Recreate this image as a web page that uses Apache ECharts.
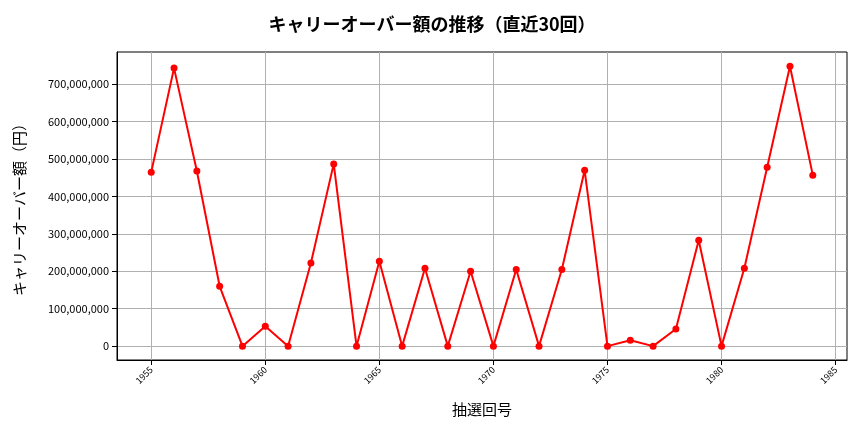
<!DOCTYPE html>
<html><head><meta charset="utf-8">
<script src="https://cdn.jsdelivr.net/npm/echarts@6/dist/echarts.min.js"></script>
<style>body{margin:0}#c{width:864px;height:432px}</style></head>
<body><div id="c"></div>
<script>
const draws = [];
for (let d = 1955; d <= 1984; d++) draws.push(d);
const carryover = [465e6,743e6,468e6,160e6,0,53e6,0,222e6,487e6,0,227e6,0,208e6,0,200e6,0,205e6,0,205e6,470e6,0,16e6,0,46e6,283e6,0,208e6,478e6,748e6,457e6];
const xTicks = [1955,1960,1965,1970,1975,1980,1985];
const yTicks = [0,1e8,2e8,3e8,4e8,5e8,6e8,7e8];
const font = '"Noto Sans CJK JP", sans-serif';
const chart = echarts.init(document.getElementById('c'));
chart.setOption({
  animation:false,
  title:{text:'キャリーオーバー額の推移（直近30回）',left:'center',top:10,textStyle:{fontFamily:font,fontSize:18,fontWeight:'bold',color:'#000'}},
  grid:{left:117,right:17,top:52,bottom:72,show:true,borderColor:'#000',borderWidth:1},
  xAxis:{type:'value',min:1953.5,max:1985.5,name:'抽選回号',nameLocation:'middle',nameGap:42,
    nameTextStyle:{fontFamily:font,fontSize:15,color:'#000'},
    axisLine:{onZero:false,lineStyle:{color:'#000'}},
    axisTick:{customValues:xTicks,lineStyle:{color:'#000'}},
    axisLabel:{customValues:xTicks,rotate:45,fontSize:9,color:'#000',fontFamily:font,formatter:v=>String(v)},
    splitLine:{show:true,lineStyle:{color:'#b0b0b0'}}},
  yAxis:{type:'value',min:-37e6,max:786e6,name:'キャリーオーバー額（円）',nameLocation:'middle',nameGap:90,
    nameTextStyle:{fontFamily:font,fontSize:15,color:'#000'},
    axisLine:{show:true,onZero:false,lineStyle:{color:'#000'}},
    axisTick:{show:true,customValues:yTicks,lineStyle:{color:'#000'}},
    axisLabel:{customValues:yTicks,fontSize:11,color:'#000',fontFamily:font,formatter:v=>v.toLocaleString('en-US')},
    splitLine:{show:true,lineStyle:{color:'#b0b0b0'}}},
  series:[{type:'line',data:draws.map((d,i)=>[d,carryover[i]]),symbol:'circle',symbolSize:7,
    lineStyle:{color:'#ff0000',width:2},itemStyle:{color:'#ff0000'}}]
});
</script></body></html>
